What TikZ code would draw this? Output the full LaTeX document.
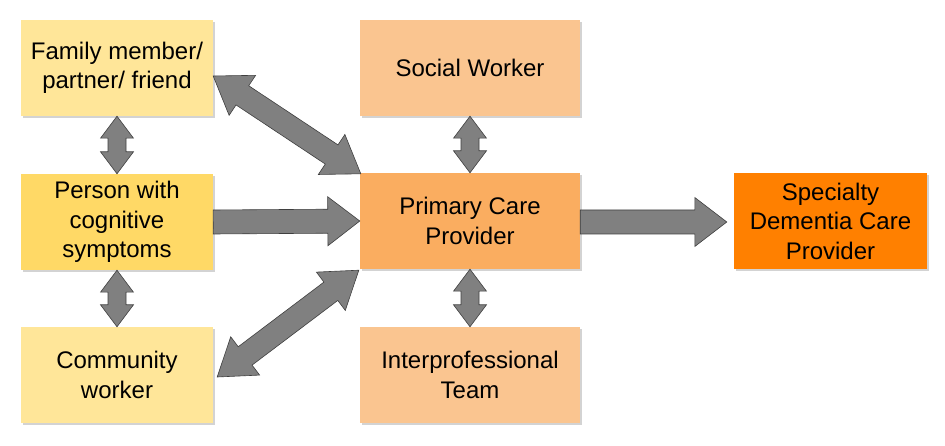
\documentclass[tikz,border=0pt]{standalone}
\usepackage{fontspec}
\setmainfont{Liberation Sans}
\usetikzlibrary{calc,shadows}
\definecolor{famcol}{HTML}{FFE699}
\definecolor{percol}{HTML}{FFD966}
\definecolor{socol}{HTML}{FAC590}
\definecolor{pricol}{HTML}{FAAD60}
\definecolor{specol}{HTML}{FF8000}
\definecolor{arrfill}{HTML}{808080}
\definecolor{arrline}{HTML}{3F3F3F}
\tikzset{
  box/.style={rectangle, draw=none, minimum width=#1, minimum height=96pt,
    align=center, inner sep=2pt, font=\fontsize{24}{29.5}\selectfont,
    drop shadow={opacity=0.35, shadow xshift=2pt, shadow yshift=-2pt}},
  blockarr/.style={fill=arrfill, draw=arrline, line width=0.6pt, line join=miter}
}
% double block arrow: start, end, head length, head half width, shaft half width
\newcommand{\dblblock}[5]{%
  \path (#1) coordinate (ba-s) (#2) coordinate (ba-t);
  \path ($(ba-s)!#3!(ba-t)$) coordinate (ba-c1) ($(ba-t)!#3!(ba-s)$) coordinate (ba-c2);
  \draw[blockarr] (ba-s)
    -- ($(ba-c1)!#4!90:(ba-t)$) -- ($(ba-c1)!#5!90:(ba-t)$)
    -- ($(ba-c2)!#5!-90:(ba-s)$) -- ($(ba-c2)!#4!-90:(ba-s)$)
    -- (ba-t)
    -- ($(ba-c2)!#4!90:(ba-s)$) -- ($(ba-c2)!#5!90:(ba-s)$)
    -- ($(ba-c1)!#5!-90:(ba-t)$) -- ($(ba-c1)!#4!-90:(ba-t)$)
    -- cycle;}
% single block arrow: start, tip, head length, head half width, shaft half width
\newcommand{\oneblock}[5]{%
  \path (#1) coordinate (ba-s) (#2) coordinate (ba-t);
  \path ($(ba-t)!#3!(ba-s)$) coordinate (ba-c2);
  \draw[blockarr] ($(ba-s)!#5!90:(ba-t)$)
    -- ($(ba-c2)!#5!-90:(ba-s)$) -- ($(ba-c2)!#4!-90:(ba-s)$)
    -- (ba-t)
    -- ($(ba-c2)!#4!90:(ba-s)$) -- ($(ba-c2)!#5!90:(ba-s)$)
    -- ($(ba-s)!#5!-90:(ba-t)$)
    -- cycle;}
\begin{document}
\begin{tikzpicture}[x=1pt,y=-1pt]
\useasboundingbox (0,0) rectangle (945,446);
\node[box=192pt, fill=famcol] (fam) at (117,68) {Family member/\\partner/ friend};
\node[box=192pt, fill=percol] (per) at (117,222) {Person with\\cognitive\\symptoms};
\node[box=192pt, fill=famcol] (com) at (117,375) {Community\\worker};
\node[box=220pt, fill=socol] (soc) at (470,68) {Social Worker};
\node[box=220pt, fill=pricol] (pri) at (470,221) {Primary Care\\Provider};
\node[box=220pt, fill=socol] (ipt) at (470,375) {Interprofessional\\Team};
\node[box=193pt, fill=specol] (spe) at (830.5,221) {Specialty\\Dementia Care\\Provider};
% connectors
\dblblock{fam.south}{per.north}{22pt}{16.5pt}{9pt}
\dblblock{per.south}{com.north}{22pt}{16.5pt}{9pt}
\dblblock{soc.south}{pri.north}{22pt}{16.5pt}{9pt}
\dblblock{pri.south}{ipt.north}{22pt}{16.5pt}{9pt}
\dblblock{$(fam.east)+(0,8)$}{$(pri.north west)+(1,1)$}{35pt}{24pt}{11.5pt}
\dblblock{$(com.east)+(4,2)$}{$(pri.south west)+(-1,1)$}{35pt}{24pt}{11.5pt}
\oneblock{per.east}{pri.west}{32pt}{24.5pt}{12pt}
\coordinate (spetip) at ($(spe.west)+(-7,1)$);
\oneblock{$(pri.east)+(0,1)$}{spetip}{32pt}{24.5pt}{12pt}
\end{tikzpicture}
\end{document}
